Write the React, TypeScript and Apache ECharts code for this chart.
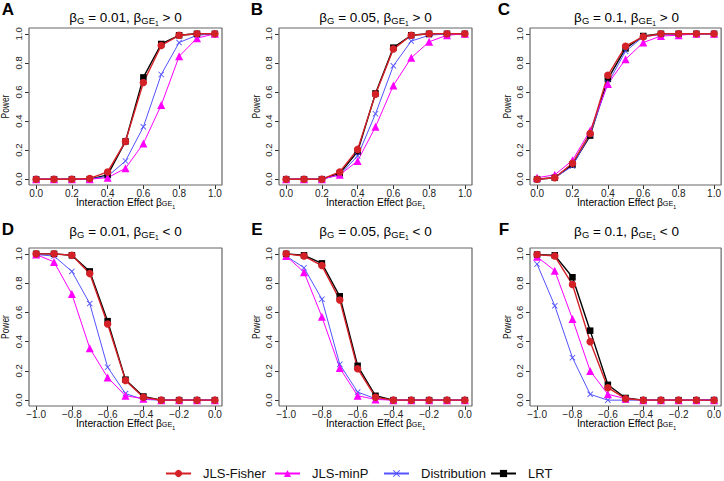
import React, { useEffect, useRef } from "react";
import * as echarts from "echarts";

const FONT = "'Liberation Sans', Arial, Helvetica, sans-serif";

const xPos = [0, 0.1, 0.2, 0.3, 0.4, 0.5, 0.6, 0.7, 0.8, 0.9, 1.0];
const xNeg = [-1.0, -0.9, -0.8, -0.7, -0.6, -0.5, -0.4, -0.3, -0.2, -0.1, 0.0];
const ticksPos = [0, 0.2, 0.4, 0.6, 0.8, 1.0];
const ticksNeg = [-1.0, -0.8, -0.6, -0.4, -0.2, 0.0];
const ticksY = [0, 0.2, 0.4, 0.6, 0.8, 1.0];

const seriesNames = ["LRT", "Distribution", "JLS-minP", "JLS-Fisher"];
const legendOrder = ["JLS-Fisher", "JLS-minP", "Distribution", "LRT"];

// Panel A: beta_G = 0.01, beta_GE1 > 0
const aLRT = [0, 0, 0, 0, 0.03, 0.26, 0.7, 0.93, 0.99, 1.0, 1.0];
const aFisher = [0, 0, 0, 0.005, 0.05, 0.26, 0.665, 0.92, 0.99, 1.0, 1.0];
const aDist = [0, 0, 0, 0, 0.02, 0.125, 0.36, 0.72, 0.94, 0.99, 1.0];
const aMinP = [0, 0, 0, 0, 0.01, 0.075, 0.245, 0.51, 0.845, 0.97, 1.0];
// Panel B: beta_G = 0.05, beta_GE1 > 0
const bLRT = [0, 0, 0, 0.04, 0.19, 0.59, 0.905, 0.99, 1.0, 1.0, 1.0];
const bFisher = [0, 0, 0, 0.05, 0.205, 0.585, 0.895, 0.99, 1.0, 1.0, 1.0];
const bDist = [0, 0, 0, 0.03, 0.16, 0.45, 0.78, 0.95, 0.99, 1.0, 1.0];
const bMinP = [0, 0, 0, 0.03, 0.125, 0.36, 0.645, 0.835, 0.945, 0.99, 1.0];
// Panel C: beta_G = 0.1, beta_GE1 > 0
const cLRT = [0, 0.01, 0.1, 0.3, 0.69, 0.9, 0.985, 1.0, 1.0, 1.0, 1.0];
const cFisher = [0, 0.01, 0.11, 0.315, 0.715, 0.915, 0.98, 1.0, 1.0, 1.0, 1.0];
const cDist = [0, 0.01, 0.09, 0.31, 0.66, 0.88, 0.98, 0.995, 1.0, 1.0, 1.0];
const cMinP = [0.01, 0.03, 0.13, 0.335, 0.655, 0.825, 0.94, 0.985, 0.99, 1.0, 1.0];
// Panel D: beta_G = 0.01, beta_GE1 < 0
const dLRT = [1.0, 1.0, 0.99, 0.88, 0.54, 0.14, 0.025, 0, 0, 0, 0];
const dFisher = [1.0, 1.0, 0.99, 0.865, 0.52, 0.135, 0.02, 0, 0, 0, 0];
const dDist = [0.995, 0.985, 0.88, 0.66, 0.225, 0.045, 0.005, 0, 0, 0, 0];
const dMinP = [0.995, 0.945, 0.725, 0.355, 0.155, 0.03, 0.01, 0, 0, 0, 0];
// Panel E: beta_G = 0.05, beta_GE1 < 0
const eLRT = [1.0, 0.99, 0.935, 0.71, 0.235, 0.03, 0, 0, 0, 0, 0];
const eFisher = [1.0, 0.985, 0.92, 0.685, 0.215, 0.02, 0, 0, 0, 0, 0];
const eDist = [0.985, 0.905, 0.69, 0.245, 0.055, 0.01, 0, 0, 0, 0, 0];
const eMinP = [0.985, 0.875, 0.57, 0.22, 0.03, 0.005, 0, 0, 0, 0, 0];
// Panel F: beta_G = 0.1, beta_GE1 < 0
const fLRT = [0.995, 0.99, 0.84, 0.475, 0.105, 0.015, 0, 0, 0, 0, 0];
const fFisher = [0.995, 0.985, 0.79, 0.4, 0.085, 0.01, 0, 0, 0, 0, 0];
const fDist = [0.93, 0.645, 0.29, 0.04, 0, 0, 0, 0, 0, 0, 0.005];
const fMinP = [0.98, 0.885, 0.555, 0.2, 0.04, 0.01, 0, 0, 0, 0, 0];

const panelLetters = ["A", "B", "C", "D", "E", "F"];
const panelBetaG = ["0.01", "0.05", "0.1", "0.01", "0.05", "0.1"];
const panelSign = [">", ">", ">", "<", "<", "<"];

const panels = [
  { x: xPos, LRT: aLRT, Distribution: aDist, "JLS-minP": aMinP, "JLS-Fisher": aFisher },
  { x: xPos, LRT: bLRT, Distribution: bDist, "JLS-minP": bMinP, "JLS-Fisher": bFisher },
  { x: xPos, LRT: cLRT, Distribution: cDist, "JLS-minP": cMinP, "JLS-Fisher": cFisher },
  { x: xNeg, LRT: dLRT, Distribution: dDist, "JLS-minP": dMinP, "JLS-Fisher": dFisher },
  { x: xNeg, LRT: eLRT, Distribution: eDist, "JLS-minP": eMinP, "JLS-Fisher": eFisher },
  { x: xNeg, LRT: fLRT, Distribution: fDist, "JLS-minP": fMinP, "JLS-Fisher": fFisher },
];

const XSYM =
  "path://M0,1 L1,0 L5,4 L9,0 L10,1 L6,5 L10,9 L9,10 L5,6 L1,10 L0,9 L4,5 Z";

const style: Record<string, any> = {
  LRT: { color: "#000000", symbol: "rect", size: 6.5, width: 1.4 },
  Distribution: { color: "#5252ff", symbol: XSYM, size: 6, width: 1 },
  "JLS-minP": { color: "#ff00ff", symbol: "triangle", size: 8, width: 1 },
  "JLS-Fisher": { color: "#d42027", symbol: "circle", size: 7.5, width: 1.4 },
};

// layout
const boxLeft = [29, 279, 530];
const boxWidth = 193;
const rowTop = [28, 248];
const boxHeight = 157;
const powerX = [5, 256, 507];
const letterX = [8, 257, 504];
const BOX = "#666666";
const PAD = 0.04;

function fmt(v: number) {
  const s = Math.abs(v).toFixed(1);
  return v < -1e-9 ? "\u2212" + s : s;
}

const titleRich = (fs: number, lh: number) => ({
  n: { fontSize: fs, fontFamily: FONT, lineHeight: lh, color: "#111" },
  s: {
    fontSize: fs * 0.7,
    fontFamily: FONT,
    lineHeight: fs * 0.7,
    verticalAlign: "bottom",
    padding: [0, 0, 2, 0],
    color: "#111",
  },
  ss: {
    fontSize: fs * 0.5,
    fontFamily: FONT,
    lineHeight: fs * 0.5,
    verticalAlign: "bottom",
    padding: [0, 0, 0, 0],
    color: "#111",
  },
});

export default function App() {
  const ref = useRef<HTMLDivElement>(null);
  useEffect(() => {
    if (!ref.current) return;
    const chart = echarts.init(ref.current, null, { renderer: "svg" });

    const grids: any[] = [];
    const xAxes: any[] = [];
    const yAxes: any[] = [];
    const series: any[] = [];
    const graphics: any[] = [];

    panels.forEach((p, i) => {
      const col = i % 3;
      const row = Math.floor(i / 3);
      const left = boxLeft[col];
      const top = rowTop[row];
      const h = boxHeight + row;
      grids.push({ left, top, width: boxWidth, height: h, show: false });
      const neg = row === 1;
      const xt = neg ? ticksNeg : ticksPos;
      const xmin = neg ? -1 - PAD : -PAD;
      const xmax = neg ? PAD : 1 + PAD;
      const ymin = -PAD;
      const ymax = 1 + PAD;
      xAxes.push({
        gridIndex: i,
        type: "value",
        min: xmin,
        max: xmax,
        axisLine: { show: false, onZero: false },
        splitLine: { show: false },
        axisTick: {
          show: true,
          length: 4,
          lineStyle: { color: "#333", width: 1 },
          customValues: xt,
        },
        axisLabel: {
          customValues: xt,
          formatter: (v: number) => fmt(v),
          margin: 3,
          fontSize: 10,
          fontFamily: FONT,
          color: "#222",
        },
      });
      yAxes.push({
        gridIndex: i,
        type: "value",
        min: ymin,
        max: ymax,
        axisLine: { show: false, onZero: false },
        splitLine: { show: false },
        axisTick: {
          show: true,
          length: 4,
          lineStyle: { color: "#333", width: 1 },
          customValues: ticksY,
        },
        axisLabel: {
          customValues: ticksY,
          formatter: (v: number) => fmt(v),
          rotate: 90,
          margin: 6,
          fontSize: 9.5,
          fontFamily: FONT,
          color: "#222",
        },
      });
      // plot frame, traced along the axis extents
      series.push({
        name: "frame" + i,
        type: "line",
        xAxisIndex: i,
        yAxisIndex: i,
        data: [
          [xmin, ymin],
          [xmax, ymin],
          [xmax, ymax],
          [xmin, ymax],
          [xmin, ymin],
        ],
        symbol: "none",
        clip: false,
        silent: true,
        z: 1,
        lineStyle: { color: BOX, width: 1.2 },
        itemStyle: { color: BOX },
        tooltip: { show: false },
      });
      seriesNames.forEach((name) => {
        const st = style[name];
        const vals: number[] = (p as any)[name];
        series.push({
          name,
          type: "line",
          xAxisIndex: i,
          yAxisIndex: i,
          data: p.x.map((x, k) => [x, vals[k]]),
          symbol: st.symbol,
          symbolSize: st.size,
          showSymbol: true,
          clip: false,
          lineStyle: { color: st.color, width: st.width },
          itemStyle: { color: st.color, borderWidth: 0 },
        });
      });

      const cx = left + boxWidth / 2;
      graphics.push({
        type: "text",
        x: letterX[col],
        y: row === 0 ? 9 : 229,
        style: {
          text: panelLetters[i],
          font: `bold 17px ${FONT}`,
          fill: "#000",
          align: "center",
          verticalAlign: "middle",
        },
      });
      graphics.push({
        type: "text",
        x: cx,
        y: row === 0 ? 17 : 231,
        style: {
          text: `{n|\u03b2}{s|G}{n| = ${panelBetaG[i]}, \u03b2}{s|GE}{ss|1}{n| ${panelSign[i]} 0}`,
          rich: titleRich(13.5, 19),
          align: "center",
          verticalAlign: "middle",
        },
      });
      graphics.push({
        type: "text",
        x: cx,
        y: row === 0 ? 202 : 423,
        style: {
          text: `{n|Interaction Effect \u03b2}{s|GE}{ss|1}`,
          rich: titleRich(10.3, 14),
          align: "center",
          verticalAlign: "middle",
        },
      });
      graphics.push({
        type: "text",
        x: powerX[col],
        y: top + h / 2,
        rotation: Math.PI / 2,
        scaleX: 0.8,
        style: {
          text: "Power",
          font: `10.5px ${FONT}`,
          fill: "#111",
          align: "center",
          verticalAlign: "middle",
        },
      });
    });

    const legendLeft = [165, 274, 383, 490];
    const legends = legendOrder.map((name, k) => ({
      data: [name],
      left: legendLeft[k],
      top: 467,
      padding: 0,
      itemWidth: 25,
      itemHeight: 9,
      selectedMode: false,
      textStyle: {
        fontSize: 13,
        fontFamily: FONT,
        color: "#111",
        padding: [0, 0, 0, 7],
      },
    }));

    chart.setOption({
      animation: false,
      grid: grids,
      xAxis: xAxes,
      yAxis: yAxes,
      series,
      legend: legends,
      graphic: graphics,
    });
    return () => chart.dispose();
  }, []);
  return (
    <div
      ref={ref}
      style={{ position: "fixed", left: 0, top: 0, width: 724, height: 481, background: "#fff" }}
    />
  );
}
